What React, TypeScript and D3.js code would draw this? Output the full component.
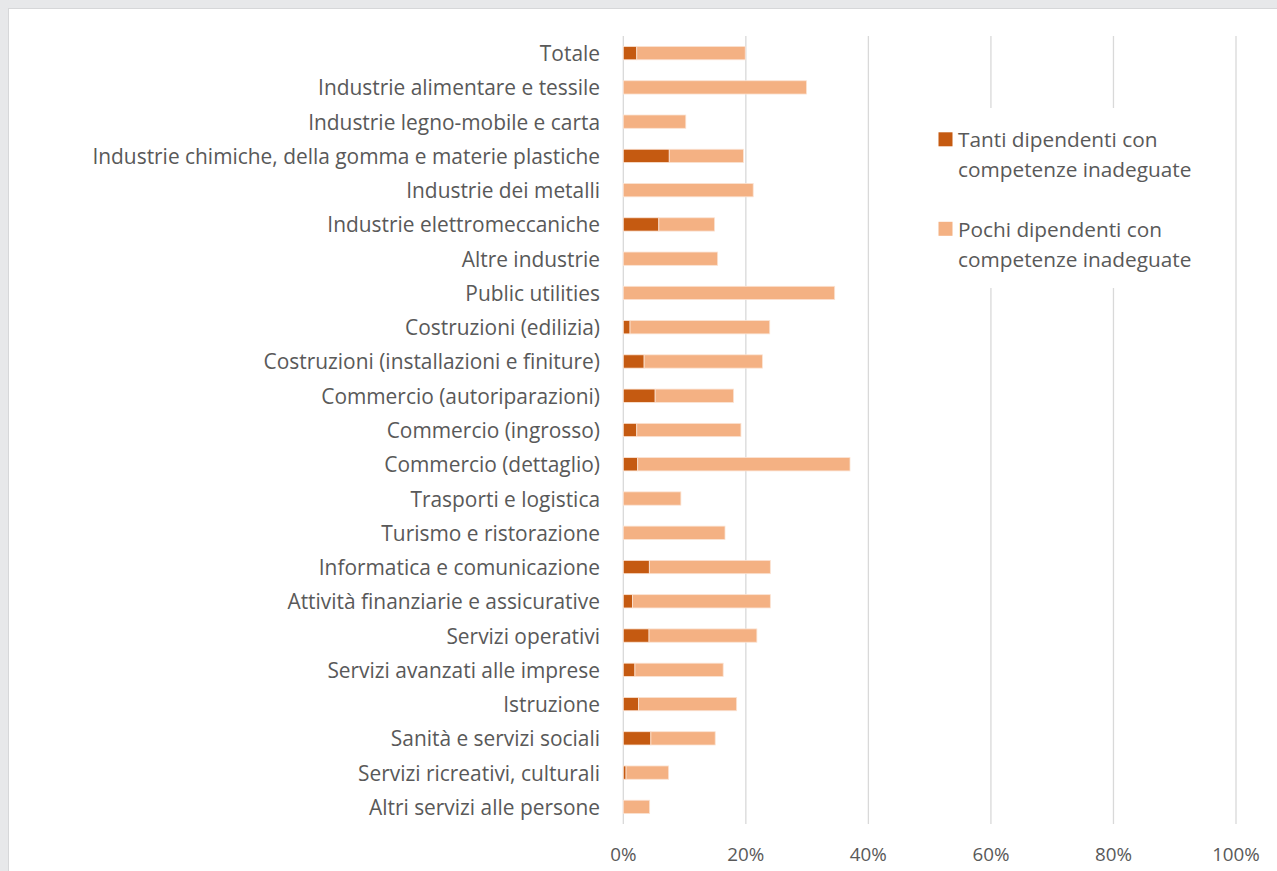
import React from "react";
import * as d3 from "d3";

const categories = [
  "Totale",
  "Industrie alimentare e tessile",
  "Industrie legno-mobile e carta",
  "Industrie chimiche, della gomma e materie plastiche",
  "Industrie dei metalli",
  "Industrie elettromeccaniche",
  "Altre industrie",
  "Public utilities",
  "Costruzioni (edilizia)",
  "Costruzioni (installazioni e finiture)",
  "Commercio (autoriparazioni)",
  "Commercio (ingrosso)",
  "Commercio (dettaglio)",
  "Trasporti e logistica",
  "Turismo e ristorazione",
  "Informatica e comunicazione",
  "Attività finanziarie e assicurative",
  "Servizi operativi",
  "Servizi avanzati alle imprese",
  "Istruzione",
  "Sanità e servizi sociali",
  "Servizi ricreativi, culturali",
  "Altri servizi alle persone",
];

const tanti = [2.2, 0, 0, 7.5, 0, 5.8, 0, 0, 1.1, 3.4, 5.2, 2.2, 2.35, 0, 0, 4.25, 1.5, 4.2, 1.9, 2.5, 4.5, 0.45, 0];
const pochi = [17.7, 29.9, 10.2, 12.1, 21.2, 9.1, 15.4, 34.5, 22.8, 19.3, 12.8, 17.0, 34.65, 9.4, 16.6, 19.75, 22.5, 17.6, 14.4, 16.0, 10.5, 6.95, 4.3];

const seriesNames = [
  ["Tanti dipendenti con", "competenze inadeguate"],
  ["Pochi dipendenti con", "competenze inadeguate"],
];
const seriesColors = ["#C55A11", "#F4B183"];
const ticks = [0, 20, 40, 60, 80, 100];

const W = 1277;
const H = 871;
const FONT = "'Open Sans', sans-serif";
const TEXT = "#595959";

export default function App() {
  const x = d3.scaleLinear().domain([0, 100]).range([623.3, 1236]);
  const y = d3.scaleBand<string>().domain(categories).range([36, 824]).padding(0);
  const bh = 13.3;
  const bw = y.bandwidth();

  return (
    <svg
      width={W}
      height={H}
      style={{ position: "absolute", left: 0, top: 0 }}
      fontFamily={FONT}
    >
      <rect x={0} y={0} width={W} height={H} fill="#e7e8ea" />
      <rect x={8} y={8} width={W - 8} height={H - 8} fill="#d6d7d9" />
      <rect x={9} y={9} width={W - 9} height={H - 9} fill="#ffffff" />

      {ticks.map((t) => (
        <line
          key={"g" + t}
          x1={x(t)}
          x2={x(t)}
          y1={36}
          y2={824}
          stroke="#d9d9d9"
          strokeWidth={1.3}
        />
      ))}

      {categories.map((c, i) => {
        const yc = (y(c) as number) + bw / 2;
        const t = tanti[i];
        const p = pochi[i];
        return (
          <g key={c}>
            <text
              x={600}
              y={yc}
              textAnchor="end"
              dominantBaseline="central"
              fontSize={20.9}
              fill={TEXT}
            >
              {c}
            </text>
            {t > 0 && (
              <rect
                x={x(0)}
                y={yc - bh / 2}
                width={x(t) - x(0)}
                height={bh}
                fill={seriesColors[0]}
                stroke="#fbe3d3"
                strokeWidth={0.8}
              />
            )}
            <rect
              x={x(t)}
              y={yc - bh / 2}
              width={x(t + p) - x(t)}
              height={bh}
              fill={seriesColors[1]}
              stroke="#fbe3d3"
              strokeWidth={0.8}
            />
          </g>
        );
      })}

      {ticks.map((t) => (
        <text
          key={"t" + t}
          x={x(t)}
          y={854}
          textAnchor="middle"
          dominantBaseline="central"
          fontSize={18.8}
          fill={TEXT}
        >
          {t + "%"}
        </text>
      ))}

      <rect x={928} y={108} width={275} height={180} fill="#ffffff" />
      {seriesNames.map((lines, i) => {
        const top = 132.3 + i * 89.5;
        return (
          <g key={"l" + i}>
            <rect x={938.5} y={top} width={14} height={14} fill={seriesColors[i]} />
            {lines.map((ln, j) => (
              <text
                key={j}
                x={958}
                y={top + 7 + j * 29.8}
                dominantBaseline="central"
                fontSize={20.8}
                fill={TEXT}
              >
                {ln}
              </text>
            ))}
          </g>
        );
      })}
    </svg>
  );
}
